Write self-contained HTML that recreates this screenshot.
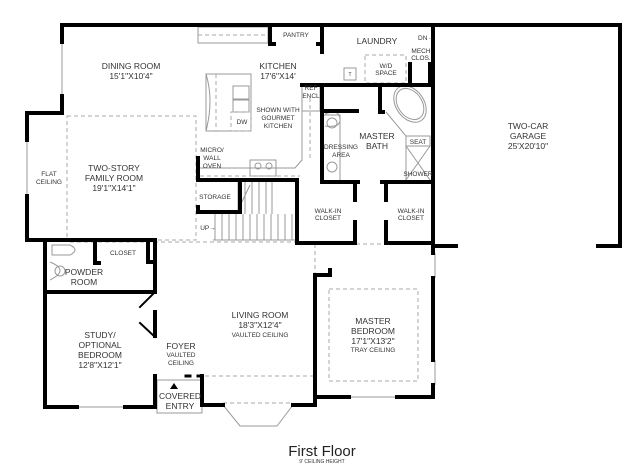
<!DOCTYPE html>
<html><head><meta charset="utf-8"><style>
html,body{margin:0;padding:0;background:#fff;width:639px;height:473px;overflow:hidden}
svg text{font-family:"Liberation Sans",sans-serif;fill:#333;text-anchor:middle}
.w{stroke:#000;stroke-width:4;fill:none;stroke-linecap:square}
.t{stroke:#999;stroke-width:1;fill:none}
.d{stroke:#aaa;stroke-width:1;fill:none;stroke-dasharray:4 3}
.L{font-size:8.5px}.S{font-size:6.5px}
</style></head><body>
<svg width="639" height="473" viewBox="0 0 639 473" xmlns="http://www.w3.org/2000/svg">
<!-- thin/dashed -->
<rect x="198" y="27" width="70" height="16" class="t"/>
<line x1="198" y1="35" x2="268" y2="35" class="d"/>
<line x1="62" y1="42" x2="62" y2="96" class="t"/>
<line x1="27" y1="140" x2="27" y2="196" class="t"/>
<rect x="67" y="116" width="129" height="124" class="d"/>
<path d="M206 74 H251 V131 H206 Z" class="t"/>
<line x1="216" y1="74" x2="216" y2="131" class="d"/>
<rect x="233" y="86" width="16" height="13" class="t"/><rect x="233" y="100" width="16" height="12" class="t"/>
<rect x="231" y="112" width="20" height="19" class="d"/>
<path d="M206 74 Q214 100 206 131" class="t"/>
<path d="M302 98 V160 L295 168 H222" class="t"/>
<line x1="310" y1="98" x2="310" y2="160" class="d"/>
<rect x="250" y="160" width="26" height="16" class="t"/>
<circle cx="258" cy="166" r="3" class="t"/><circle cx="269" cy="166" r="3" class="t"/>
<line x1="200" y1="168" x2="222" y2="168" class="t"/>
<line x1="200" y1="176" x2="300" y2="176" class="d"/>
<rect x="302" y="85" width="18" height="26" class="t"/>
<path d="M238 182 V214 M245 182 V214 M252 182 V214 M259 182 V214 M266 182 V214 M272 182 V214" class="t"/>
<path d="M215 214 V240 M222 214 V240 M229 214 V240 M236 214 V240 M243 214 V240 M250 214 V240 M257 214 V240 M264 214 V240 M271 214 V240 M278 214 V240 M285 214 V240 M292 214 V240" class="t"/>
<line x1="213" y1="240" x2="298" y2="240" class="t"/>
<line x1="250" y1="185" x2="238" y2="210" class="t"/>
<line x1="70" y1="242" x2="300" y2="242" class="d"/>
<rect x="365" y="55" width="41" height="28" class="d"/>
<rect x="344" y="68" width="12" height="12" class="t"/>
<line x1="433" y1="30" x2="433" y2="55" class="t"/>
<ellipse cx="410" cy="104" rx="12" ry="17" transform="rotate(-35 410 104)" class="t"/>
<ellipse cx="410" cy="104" rx="14" ry="20" transform="rotate(-35 410 104)" class="t"/>
<path d="M386 112 L406 136 V182" class="t"/><rect x="406" y="136" width="24" height="10" class="t"/>
<path d="M406 146 L430 180 M430 146 L406 180" class="t"/>
<path d="M324 115 H340 V182" class="t"/><circle cx="332" cy="123" r="5" class="t"/><circle cx="332" cy="167" r="5" class="t"/>
<path d="M325 114 Q340 108 340 120 Q340 128 325 126" class="t"/>
<line x1="300" y1="244" x2="433" y2="244" class="d"/>
<line x1="315" y1="244" x2="315" y2="273" class="d"/>
<line x1="435" y1="253" x2="435" y2="278" class="t"/><line x1="435" y1="360" x2="435" y2="385" class="t"/>
<rect x="329" y="289" width="89" height="92" class="d"/>
<line x1="205" y1="376" x2="315" y2="376" class="d"/>
<line x1="155" y1="265" x2="155" y2="292" class="d"/>
<rect x="157" y="380" width="45" height="33" class="t"/>
<line x1="45" y1="318" x2="45" y2="340" class="t"/>
<line x1="77" y1="407" x2="125" y2="407" class="t"/>
<line x1="349" y1="397" x2="397" y2="397" class="t"/>
<path d="M223 405 L240 426 H277 L293 405" class="t"/><line x1="223" y1="403" x2="293" y2="403" class="d"/>
<path d="M52 245 H70 Q80 250 70 255 H52 Z M50 262 Q70 270 50 280" class="t"/>
<circle cx="60" cy="271" r="5" class="t"/>
<!-- walls -->
<path class="w" d="M62 42 V25 H620 V246 H598 M456 246 H433 V25"/>
<path class="w" d="M62 96 V113 H27 V140 M27 196 V240 H155"/>
<path class="w" d="M270 25 V44 H274 M322 25 V52 M318 44 H322"/>
<path class="w" d="M322 85 H433 M410 85 V64 M430 85 V64"/>
<path class="w" d="M302 85 H322 V182 H358 M382 182 H433 M322 111 H357 M380 88 V112 H383"/>
<path class="w" d="M297 182 V243 H355 V222 M355 200 V182 M386 182 V200 M386 222 V243 H433 V246"/>
<path class="w" d="M198 158 V180 H297 M240 180 V212 H198 V207"/>
<path class="w" d="M45 240 V407 H77 M125 407 H155 V376 M155 336 V312 M155 292 V240 M95 240 V263 H99 M45 292 H155 M148 240 V262 H152"/>
<line class="w" x1="155" y1="292" x2="140" y2="307" style="stroke-width:2"/>
<line class="w" x1="140" y1="323" x2="155" y2="337" style="stroke-width:2"/>
<path class="w" d="M202 376 V405 H223 M293 405 H315 V275 H330 V270 M315 397 H349 M397 397 H433 V385 M433 360 V278 M433 253 V246"/>
<path class="w" d="M186 376 H190 M198 376 H202" style="stroke-width:3"/>
<!-- text -->
<text x="131" y="69" class="L">DINING ROOM</text><text x="131" y="79" class="L">15'1"X10'4"</text>
<text x="278" y="69" class="L">KITCHEN</text><text x="278" y="79" class="L">17'6"X14'</text>
<text x="296" y="37" class="S">PANTRY</text>
<text x="377" y="44" class="L">LAUNDRY</text>
<text x="426" y="40" class="S">DN→</text>
<text x="421" y="53" class="S">MECH</text><text x="421" y="60" class="S">CLOS.</text>
<text x="386" y="68" class="S">W/D</text><text x="386" y="75" class="S">SPACE</text>
<text x="350" y="76" class="S" style="font-size:5px">T</text>
<text x="311" y="90" class="S">REF</text><text x="311" y="98" class="S">ENCL</text>
<text x="242" y="124" class="S">DW</text>
<text x="278" y="112" class="S">SHOWN WITH</text><text x="278" y="120" class="S">GOURMET</text><text x="278" y="128" class="S">KITCHEN</text>
<text x="212" y="152" class="S">MICRO/</text><text x="212" y="160" class="S">WALL</text><text x="212" y="168" class="S">OVEN</text>
<text x="114" y="171" class="L">TWO-STORY</text><text x="114" y="181" class="L">FAMILY ROOM</text><text x="114" y="191" class="L">19'1"X14'1"</text>
<text x="49" y="176" class="S">FLAT</text><text x="49" y="184" class="S">CEILING</text>
<text x="215" y="199" class="S">STORAGE</text>
<text x="208" y="230" class="S">UP→</text>
<text x="341" y="149" class="S">DRESSING</text><text x="341" y="157" class="S">AREA</text>
<text x="377" y="139" class="L">MASTER</text><text x="377" y="149" class="L">BATH</text>
<text x="418" y="144" class="S">SEAT</text><text x="418" y="176" class="S">SHOWER</text>
<text x="528" y="129" class="L">TWO-CAR</text><text x="528" y="139" class="L">GARAGE</text><text x="528" y="149" class="L">25'X20'10"</text>
<text x="328" y="213" class="S">WALK-IN</text><text x="328" y="220" class="S">CLOSET</text>
<text x="411" y="213" class="S">WALK-IN</text><text x="411" y="220" class="S">CLOSET</text>
<text x="123" y="255" class="S">CLOSET</text>
<text x="84" y="275" class="L">POWDER</text><text x="84" y="285" class="L">ROOM</text>
<text x="100" y="338" class="L">STUDY/</text><text x="100" y="348" class="L">OPTIONAL</text><text x="100" y="358" class="L">BEDROOM</text><text x="100" y="368" class="L">12'8"X12'1"</text>
<text x="181" y="349" class="L">FOYER</text><text x="181" y="357" class="S">VAULTED</text><text x="181" y="365" class="S">CEILING</text>
<text x="260" y="318" class="L">LIVING ROOM</text><text x="260" y="328" class="L">18'3"X12'4"</text><text x="260" y="337" class="S">VAULTED CEILING</text>
<text x="373" y="324" class="L">MASTER</text><text x="373" y="334" class="L">BEDROOM</text><text x="373" y="344" class="L">17'1"X13'2"</text><text x="373" y="352" class="S">TRAY CEILING</text>
<path d="M174 383 L178 389 H170 Z" fill="#000"/>
<text x="180" y="399" class="L">COVERED</text><text x="180" y="409" class="L">ENTRY</text>
<text x="322" y="456" style="font-size:15px;fill:#222">First Floor</text>
<text x="322" y="463" style="font-size:5px">9' CEILING HEIGHT</text>
</svg>
</body></html>
